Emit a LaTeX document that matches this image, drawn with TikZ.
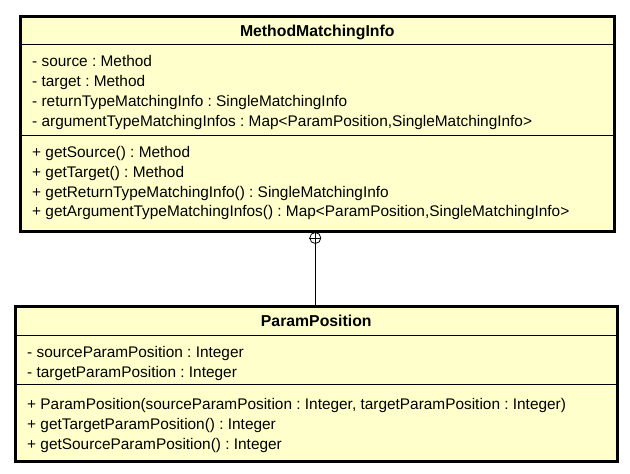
\documentclass[tikz,border=0pt]{standalone}
\usepackage{fontspec}
\setmainfont{Liberation Sans}
\usetikzlibrary{positioning}
\definecolor{classfill}{HTML}{FFFFCC}
\tikzset{
    classbox/.style={rectangle, draw=black, line width=3pt, fill=classfill,
        inner sep=0pt, anchor=north west},
    classname/.style={font=\bfseries\fontsize{15.8}{18}\selectfont, inner sep=0pt, anchor=base},
    member/.style={font=\fontsize{15.4}{18}\selectfont\frenchspacing, inner sep=0pt, anchor=base west},
    divider/.style={line width=0.8pt},
    nesting/.style={circle, draw, line width=0.8pt, fill=white, minimum size=11pt, inner sep=0pt},
    link/.style={line width=0.8pt}
}

\begin{document}
\begin{tikzpicture}[x=1pt, y=-1pt]
    \useasboundingbox (0,0) rectangle (630,474);
    % outer class
    \node[classbox, minimum width=593.5pt, minimum height=214.5pt] (mmi) at (19,15) {};
    \draw[divider] (mmi.west |- 0,44) -- (mmi.east |- 0,44);
    \draw[divider] (mmi.west |- 0,135) -- (mmi.east |- 0,135);
    \node[classname] (mminame) at (mmi.center |- 0,36) {MethodMatchingInfo};
    \node[member] (mmia1) at (32,66.7) {- source : Method};
    \node[member] (mmia2) at (32,86.5) {- target : Method};
    \node[member] (mmia3) at (32,106.2) {- returnTypeMatchingInfo : SingleMatchingInfo};
    \node[member] (mmia4) at (32,126) {- argumentTypeMatchingInfos : Map<ParamPosition,SingleMatchingInfo>};
    \node[member] (mmim1) at (32,157.7) {+ getSource() : Method};
    \node[member] (mmim2) at (32,177.4) {+ getTarget() : Method};
    \node[member] (mmim3) at (32,197) {+ getReturnTypeMatchingInfo() : SingleMatchingInfo};
    \node[member] (mmim4) at (32,216.7) {+ getArgumentTypeMatchingInfos() : Map<ParamPosition,SingleMatchingInfo>};

    % inner class
    \node[classbox, minimum width=601.5pt, minimum height=154.5pt] (pp) at (14,305) {};
    \draw[divider] (pp.west |- 0,335) -- (pp.east |- 0,335);
    \draw[divider] (pp.west |- 0,384.3) -- (pp.east |- 0,384.3);
    \node[classname] (ppname) at (pp.center |- 0,326) {ParamPosition};
    \node[member] (ppa1) at (27,357.3) {- sourceParamPosition : Integer};
    \node[member] (ppa2) at (27,377.7) {- targetParamPosition : Integer};
    \node[member] (ppm1) at (27,409) {+ ParamPosition(sourceParamPosition : Integer, targetParamPosition : Integer)};
    \node[member] (ppm2) at (27,429) {+ getTargetParamPosition() : Integer};
    \node[member] (ppm3) at (27,449) {+ getSourceParamPosition() : Integer};

    % nesting link
    \node[nesting] (nest) at (315.3,238) {};
    \draw[link] (nest.north) -- (nest.south);
    \draw[link] (nest.west) -- (nest.east);
    \draw[link] (nest.south) -- (nest.south |- pp.north);
\end{tikzpicture}
\end{document}
